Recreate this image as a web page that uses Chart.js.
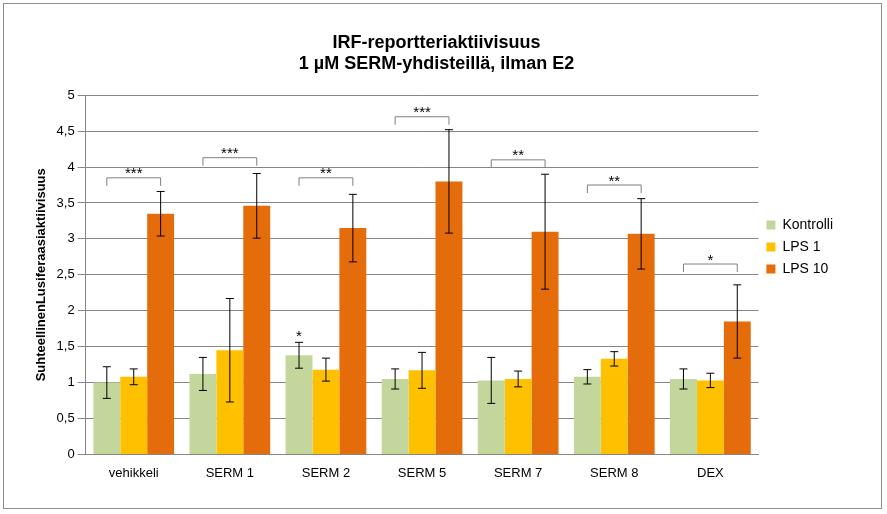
<!DOCTYPE html>
<html><head><meta charset="utf-8">
<script src="https://cdn.jsdelivr.net/npm/chart.js@4"></script>
<style>
body{margin:0;background:#fff;}
#wrap{position:absolute;left:3px;top:3px;width:879px;height:506px;border:1px solid #8c8c8c;box-sizing:border-box;}
</style></head><body>
<div id="wrap"><canvas id="c"></canvas></div>
<script>
const categories = ['vehikkeli', 'SERM 1', 'SERM 2', 'SERM 5', 'SERM 7', 'SERM 8', 'DEX'];
const kontrolli = [1.0, 1.12, 1.38, 1.05, 1.03, 1.08, 1.05];
const kontrolliErr = [0.22, 0.23, 0.18, 0.14, 0.32, 0.1, 0.14];
const lps1 = [1.08, 1.45, 1.18, 1.17, 1.05, 1.33, 1.03];
const lps1Err = [0.11, 0.72, 0.16, 0.25, 0.11, 0.1, 0.1];
const lps10 = [3.35, 3.46, 3.15, 3.8, 3.1, 3.07, 1.85];
const lps10Err = [0.31, 0.45, 0.47, 0.72, 0.8, 0.49, 0.51];
const bracketY = [3.85, 4.13, 3.85, 4.7, 4.1, 3.75, 2.65];
const bracketStars = ['***', '***', '**', '***', '**', '**', '*'];
const yTicks = ['0', '0,5', '1', '1,5', '2', '2,5', '3', '3,5', '4', '4,5', '5'];

const errs = [kontrolliErr, lps1Err, lps10Err];

const extras = {
    id: 'extras',
    afterDatasetsDraw(chart) {
        const ctx = chart.ctx;
        const y = chart.scales.y;
        ctx.save();
        ctx.strokeStyle = '#000';
        ctx.lineWidth = 1;
        chart.data.datasets.forEach((ds, di) => {
            chart.getDatasetMeta(di).data.forEach((bar, i) => {
                const top = y.getPixelForValue(ds.data[i] + errs[di][i]);
                const bot = y.getPixelForValue(ds.data[i] - errs[di][i]);
                ctx.beginPath();
                ctx.moveTo(bar.x, top); ctx.lineTo(bar.x, bot);
                ctx.moveTo(bar.x - 4, top); ctx.lineTo(bar.x + 4, top);
                ctx.moveTo(bar.x - 4, bot); ctx.lineTo(bar.x + 4, bot);
                ctx.stroke();
            });
        });
        ctx.strokeStyle = '#7f7f7f';
        ctx.fillStyle = '#000';
        ctx.font = '15px Arial, "Liberation Sans"';
        ctx.textAlign = 'center';
        ctx.textBaseline = 'bottom';
        const m0 = chart.getDatasetMeta(0).data, m2 = chart.getDatasetMeta(2).data;
        categories.forEach((c, i) => {
            const by = y.getPixelForValue(bracketY[i]);
            const drop = 8;
            ctx.beginPath();
            ctx.moveTo(m0[i].x, by + drop); ctx.lineTo(m0[i].x, by);
            ctx.lineTo(m2[i].x, by); ctx.lineTo(m2[i].x, by + drop);
            ctx.stroke();
            ctx.fillText(bracketStars[i], (m0[i].x + m2[i].x) / 2, by + 4);
        });
        const sx = m0[2].x, sy = y.getPixelForValue(kontrolli[2] + kontrolliErr[2]);
        ctx.fillText('*', sx, sy + 2);
        ctx.restore();
    }
};

new Chart(document.getElementById('c'), {
    type: 'bar',
    data: {
        labels: categories,
        datasets: [
            { label: 'Kontrolli', data: kontrolli, backgroundColor: '#c3d69b' },
            { label: 'LPS 1', data: lps1, backgroundColor: '#ffc000' },
            { label: 'LPS 10', data: lps10, backgroundColor: '#e46c0a' }
        ]
    },
    options: {
        responsive: true,
        maintainAspectRatio: false,
        animation: false,
        datasets: { bar: { categoryPercentage: 0.84, barPercentage: 1 } },
        layout: { padding: { left: 26, right: 38, top: 6, bottom: 24 } },
        plugins: {
            title: {
                display: true,
                text: ['IRF-reportteriaktiivisuus', '1 µM SERM-yhdisteillä, ilman E2'],
                color: '#000',
                font: { family: 'Arial, "Liberation Sans"', size: 18, weight: 'bold' },
                padding: { top: 22, bottom: 20 }
            },
            legend: {
                position: 'right',
                labels: { color: '#000', boxWidth: 9, boxHeight: 9, padding: 8, font: { family: 'Arial, "Liberation Sans"', size: 14 } }
            },
            tooltip: { enabled: false }
        },
        scales: {
            x: {
                grid: { display: false },
                border: { color: '#868686' },
                ticks: { color: '#000', font: { family: 'Arial, "Liberation Sans"', size: 13 } }
            },
            y: {
                min: 0, max: 5,
                ticks: {
                    stepSize: 0.5, color: '#000',
                    font: { family: 'Arial, "Liberation Sans"', size: 13 },
                    callback: (v, i) => yTicks[i]
                },
                grid: { color: '#868686' },
                border: { color: '#868686' },
                title: {
                    display: true, text: 'SuhteellinenLusiferaasiaktiivisuus', color: '#000',
                    font: { family: 'Arial, "Liberation Sans"', size: 13, weight: 'bold' }
                }
            }
        }
    },
    plugins: [extras]
});
</script>
</body></html>
